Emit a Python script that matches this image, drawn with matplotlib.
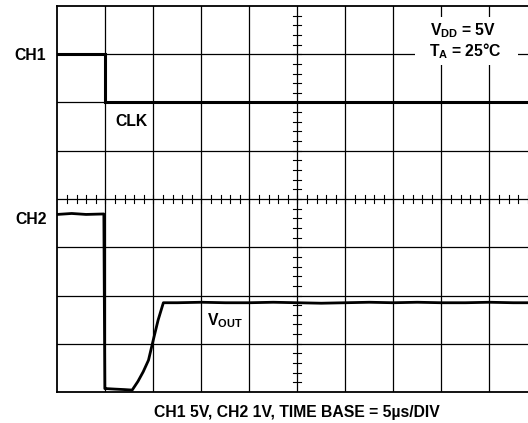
import numpy as np
import matplotlib
matplotlib.use("Agg")
import matplotlib.pyplot as plt
from matplotlib.patches import Rectangle

plt.rcParams['font.family'] = ['Liberation Sans', 'DejaVu Sans']
plt.rcParams['font.weight'] = 'bold'
plt.rcParams['mathtext.fontset'] = 'custom'
plt.rcParams['mathtext.rm'] = 'Liberation Sans:bold'
plt.rcParams['mathtext.it'] = 'Liberation Sans:bold'
plt.rcParams['mathtext.bf'] = 'Liberation Sans:bold'

# screen in divisions: 10 across, 8 high (0 = bottom)
ch1_t = [0.0, 1.0, 1.0, 10.0]
ch1_v = [7.0, 7.0, 6.0, 6.0]

ch2_t = [0.0, 0.3, 0.6, 0.97, 0.99, 1.02, 1.2, 1.4, 1.56, 1.68, 1.79, 1.90, 2.0, 2.10, 2.21,
         2.5, 3.0, 3.5, 4.0, 4.5, 5.0, 5.5, 6.0, 6.5, 7.0, 7.5, 8.0, 8.5, 9.0, 9.5, 10.0]
ch2_v = [3.68, 3.70, 3.68, 3.69, 0.07, 0.07, 0.06, 0.05, 0.04, 0.22, 0.42, 0.66, 1.08, 1.49, 1.85,
         1.85, 1.86, 1.85, 1.85, 1.86, 1.85, 1.84, 1.85, 1.86, 1.85, 1.86, 1.85, 1.85, 1.86, 1.85, 1.85]

fs = 11.3

fig = plt.figure(figsize=(5.28, 4.23), dpi=100)
ax = fig.add_axes([57.3 / 528, 31 / 423, 480 / 528, 386 / 423])
ax.set_xlim(0, 10)
ax.set_ylim(0, 8)

# graticule
for x in range(1, 10):
    ax.axvline(x, color='black', lw=0.9, zorder=1)
for y in range(1, 8):
    ax.axhline(y, color='black', lw=0.9, zorder=1)
for s in ax.spines.values():
    s.set_linewidth(1.3)

# minor ticks on centre lines
for m in np.arange(0.2, 10, 0.2):
    ax.plot([m, m], [4 - 0.08, 4 + 0.08], color='black', lw=0.8, zorder=1)
for m in np.arange(0.2, 8, 0.2):
    ax.plot([5 - 0.08, 5 + 0.08], [m, m], color='black', lw=0.8, zorder=1)

ax.set_xticks([])
ax.set_yticks([])

ax.plot(ch1_t, ch1_v, color='black', lw=2.2, solid_joinstyle='miter', zorder=3)
ax.plot(ch2_t, ch2_v, color='black', lw=2.0, zorder=3)

# white patch behind the conditions text
x0, x1 = (415 - 57.3) / 48, (518 - 57.3) / 48
y0, y1 = (392 - 65) / 48.2, (392 - 17) / 48.2
ax.add_patch(Rectangle((x0, y0), x1 - x0, y1 - y0, facecolor='white', edgecolor='none', zorder=2.5))
ax.text(8.45, (392 - 36) / 48.2, '$V_{DD}$ = 5V', fontsize=fs, ha='center', va='baseline', zorder=4)
ax.text(8.50, (392 - 56.7) / 48.2, '$T_A$ = 25°C', fontsize=fs, ha='center', va='baseline', zorder=4)
ax.text(1.2, 5.6, 'CLK', fontsize=fs, ha='left', va='center')
ax.text(3.12, 1.48, '$V_{OUT}$', fontsize=fs, ha='left', va='center')

fig.text(30 / 528, 1 - 56 / 423, 'CH1', fontsize=fs, ha='center', va='center')
fig.text(31 / 528, 1 - 219 / 423, 'CH2', fontsize=fs, ha='center', va='center')
fig.text(296.5 / 528, 1 - 412 / 423, 'CH1 5V, CH2 1V, TIME BASE = 5µs/DIV', fontsize=fs,
         ha='center', va='center')

fig.savefig('out.png', dpi=100)
